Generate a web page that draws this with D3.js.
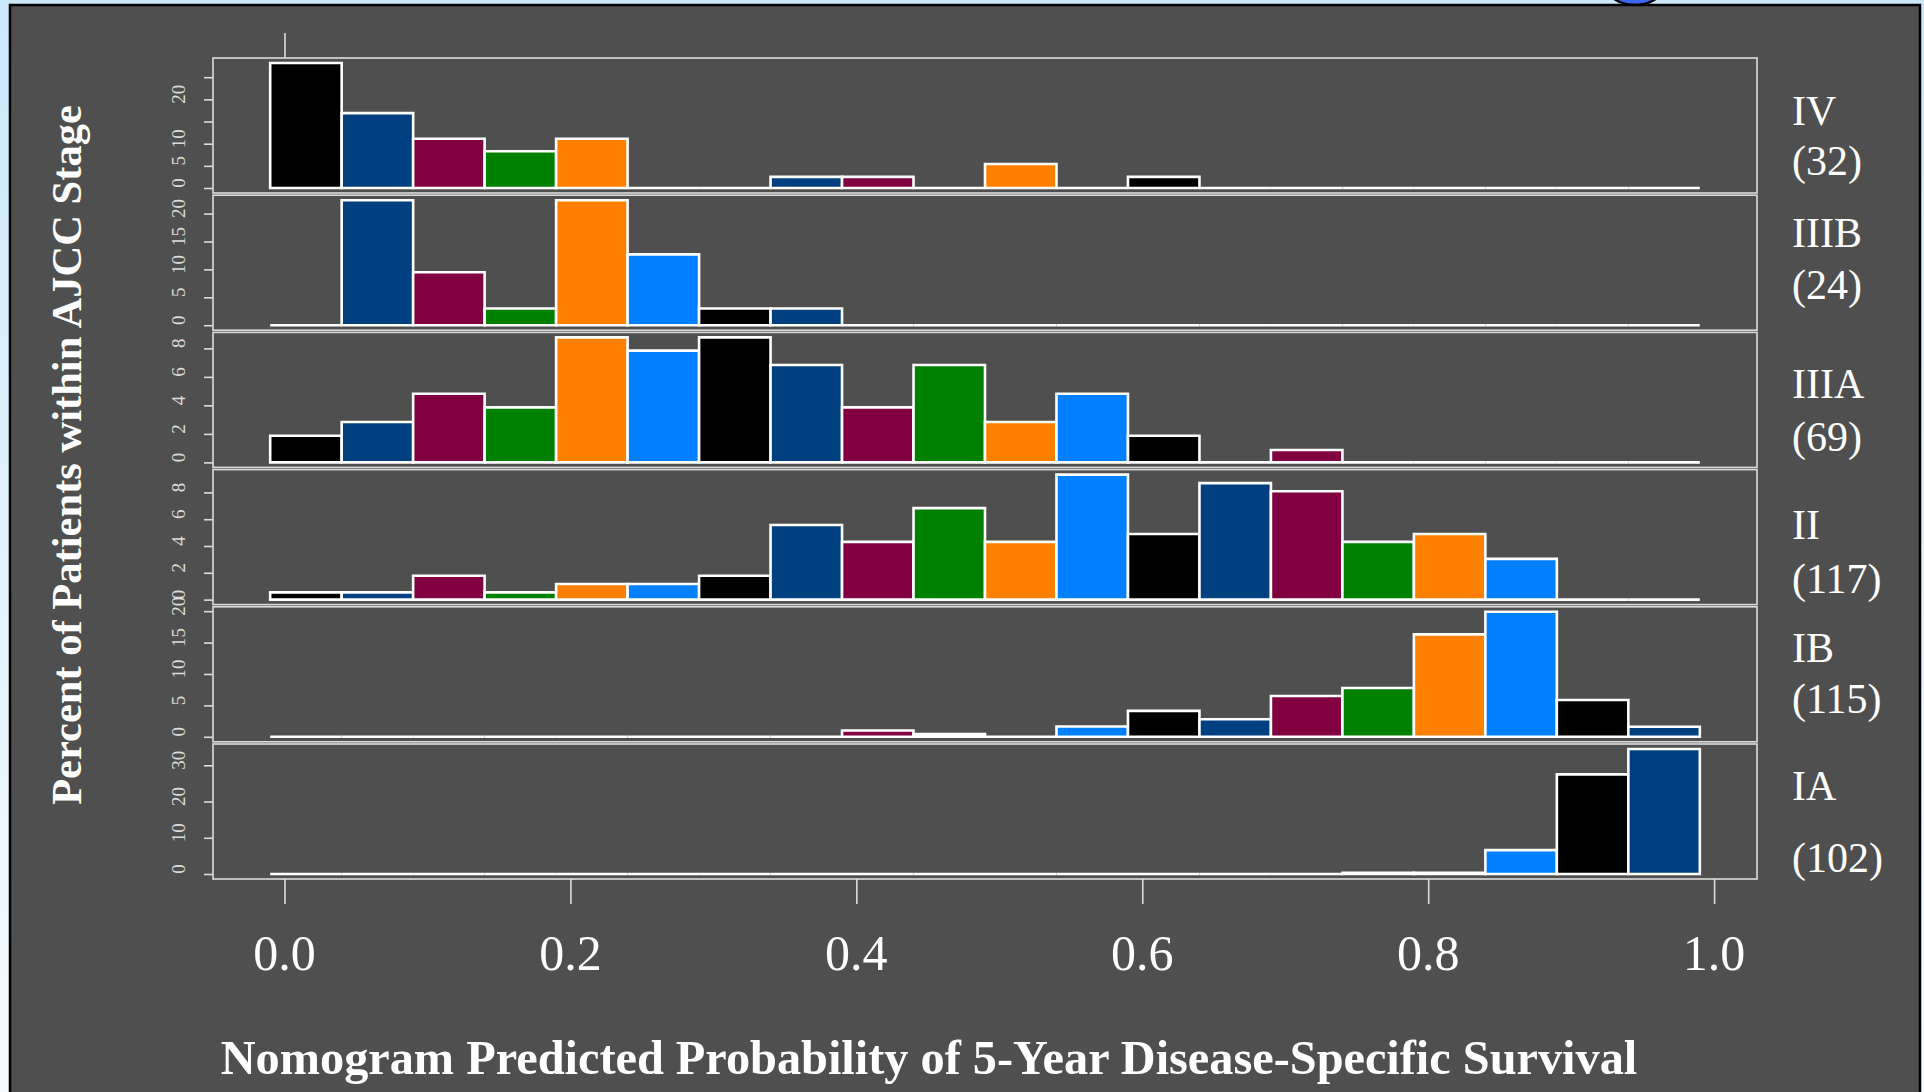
<!DOCTYPE html>
<html><head><meta charset="utf-8">
<script src="https://cdn.jsdelivr.net/npm/d3@7"></script>
<style>html,body{margin:0;padding:0;overflow:hidden;background:#fff}</style>
</head><body>
<svg id="c" width="1924" height="1092"></svg>
<script>
// ---------- DATA ----------
const stages = ["IV", "IIIB", "IIIA", "II", "IB", "IA"];
const stageN = ["(32)", "(24)", "(69)", "(117)", "(115)", "(102)"];
const breaks = [-0.01, 0.04, 0.09, 0.14, 0.19, 0.24, 0.29, 0.34, 0.39, 0.44, 0.49,
                0.54, 0.59, 0.64, 0.69, 0.74, 0.79, 0.84, 0.89, 0.94, 0.99];
const binColors = ["#000000", "#004080", "#800040", "#008000", "#ff8000", "#0080ff"];
const pctIV   = [28.2, 16.9, 11.1, 8.3, 11.1, 0, 0, 2.5, 2.5, 0, 5.4, 0, 2.5, 0, 0, 0, 0, 0, 0, 0];
const pctIIIB = [0, 22.4, 9.5, 3.0, 22.4, 12.7, 3.0, 3.0, 0, 0, 0, 0, 0, 0, 0, 0, 0, 0, 0, 0];
const pctIIIA = [1.87, 2.83, 4.82, 3.86, 8.77, 7.84, 8.77, 6.83, 3.86, 6.83, 2.83, 4.82, 1.87, 0, 0.87, 0, 0, 0, 0, 0];
const pctII   = [0.54, 0.54, 1.78, 0.54, 1.16, 1.16, 1.78, 5.57, 4.31, 6.83, 4.31, 9.33, 4.9, 8.69, 8.09, 4.31, 4.9, 3.04, 0, 0];
const pctIB   = [0, 0, 0, 0, 0, 0, 0, 0, 1.0, 0.42, 0, 1.64, 4.13, 2.8, 6.5, 7.78, 16.3, 19.9, 5.87, 1.59];
const pctIA   = [0, 0, 0, 0, 0, 0, 0, 0, 0, 0, 0, 0, 0, 0, 0, 0.3, 0.3, 6.6, 27.5, 34.5];
const panelValues = [pctIV, pctIIIB, pctIIIA, pctII, pctIB, pctIA];
const yTicks  = [[0,5,10,15,20,25], [0,5,10,15,20], [0,2,4,6,8], [0,2,4,6,8], [0,5,10,15,20], [0,10,20,30]];
const yLabels = [[0,5,10,20], [0,5,10,15,20], [0,2,4,6,8], [0,2,4,6,8], [0,5,10,15,20], [0,10,20,30]];
const xTicks = [0, 0.2, 0.4, 0.6, 0.8, 1.0];
const xTitle = "Nomogram Predicted Probability of 5-Year Disease-Specific Survival";
const yTitle = "Percent of Patients within AJCC Stage";

// ---------- LAYOUT ----------
const W = 1924, H = 1092;
const L = 213, R = 1757, TOP = 58, PERIOD = 137.2, PH = 135;
const labelBase = [[125, 175], [247, 299], [398, 451], [539, 593], [662, 713], [800, 872]];
const serif = "'Liberation Serif','Times New Roman',Times,serif";
const fg = "#ffffff", axisCol = "#dcdcdc";

const svg = d3.select("#c");
const defs = svg.append("defs");
const g1 = defs.append("linearGradient").attr("id", "bg").attr("x1", 0).attr("y1", 0).attr("x2", 0).attr("y2", 1);
g1.append("stop").attr("offset", "0%").attr("stop-color", "#cbe8fb");
g1.append("stop").attr("offset", "100%").attr("stop-color", "#f6fbff");
svg.append("rect").attr("width", W).attr("height", H).attr("fill", "url(#bg)");
svg.append("ellipse").attr("cx", 1635).attr("cy", -12).attr("rx", 27).attr("ry", 17)
  .attr("fill", "#3a66f2").attr("stroke", "#000").attr("stroke-width", 2.5);
svg.append("rect").attr("x", 10).attr("y", 5).attr("width", 1910).attr("height", 1100)
  .attr("fill", "#4f4f4f").attr("stroke", "#000").attr("stroke-width", 2.5);

const x = d3.scaleLinear().domain([-0.05, 1.03]).range([L, R]);

panelValues.forEach((vals, p) => {
  const top = TOP + p * PERIOD, bottom = top + PH;
  const mx = d3.max(vals);
  const y = d3.scaleLinear().domain([-0.04 * mx, 1.04 * mx]).range([bottom, top]);
  const g = svg.append("g");
  g.append("rect").attr("x", L).attr("y", top).attr("width", R - L).attr("height", PH)
    .attr("fill", "none").attr("stroke", axisCol).attr("stroke-width", 1.6);
  // bars
  g.selectAll("path.bar").data(vals).join("path").attr("class", "bar")
    .attr("d", (v, i) => {
      const x0 = x(breaks[i]), x1 = x(breaks[i + 1]), y0 = y(0), y1 = y(v);
      return `M${x0},${y0}V${y1}H${x1}V${y0}Z`;
    })
    .attr("fill", (v, i) => binColors[i % 6])
    .attr("stroke", "#fff").attr("stroke-width", 2.6).attr("stroke-linejoin", "miter");
  // y axis ticks
  const ax = g.append("g").attr("transform", `translate(${L},0)`)
    .call(d3.axisLeft(y).tickValues(yTicks[p]).tickSize(9).tickFormat(""));
  ax.select(".domain").remove();
  ax.selectAll(".tick line").attr("stroke", axisCol).attr("stroke-width", 1.6);
  // y tick labels (rotated)
  g.selectAll("text.yl").data(yLabels[p]).join("text").attr("class", "yl")
    .attr("transform", v => `translate(185,${y(v) - 5}) rotate(-90)`)
    .attr("text-anchor", "middle").attr("font-family", serif).attr("font-size", 19)
    .attr("fill", axisCol).text(v => v);
  // stage labels
  g.append("text").attr("x", 1792).attr("y", labelBase[p][0]).attr("font-family", serif)
    .attr("font-size", 42).attr("fill", fg).text(stages[p]);
  g.append("text").attr("x", 1792).attr("y", labelBase[p][1]).attr("font-family", serif)
    .attr("font-size", 42).attr("fill", fg).text(stageN[p]);
});

// x axis (bottom)
const bottomY = TOP + 5 * PERIOD + PH;
const xa = svg.append("g").attr("transform", `translate(0,${bottomY})`)
  .call(d3.axisBottom(x).tickValues(xTicks).tickSize(25).tickFormat(""));
xa.select(".domain").remove();
xa.selectAll(".tick line").attr("stroke", axisCol).attr("stroke-width", 1.6);
svg.selectAll("text.xl").data(xTicks).join("text").attr("class", "xl")
  .attr("x", d => x(d)).attr("y", 970).attr("text-anchor", "middle")
  .attr("font-family", serif).attr("font-size", 50).attr("fill", fg).text(d => d.toFixed(1));
// top tick at 0
const xt = svg.append("g").attr("transform", `translate(0,${TOP})`)
  .call(d3.axisTop(x).tickValues([0]).tickSize(25).tickFormat(""));
xt.select(".domain").remove();
xt.selectAll(".tick line").attr("stroke", axisCol).attr("stroke-width", 1.6);

// titles
const xt2 = svg.append("text").attr("x", 929).attr("y", 1074).attr("text-anchor", "middle")
  .attr("font-family", serif).attr("font-weight", "bold").attr("font-size", 45).attr("fill", fg).text(xTitle);
let w = xt2.node().getComputedTextLength();
xt2.attr("font-size", 45 * 1417 / w);
const yt = svg.append("text").attr("transform", "translate(81,455) rotate(-90)").attr("text-anchor", "middle")
  .attr("font-family", serif).attr("font-weight", "bold").attr("font-size", 40).attr("fill", fg).text(yTitle);
w = yt.node().getComputedTextLength();
yt.attr("font-size", 40 * 700 / w);
</script>
</body></html>
